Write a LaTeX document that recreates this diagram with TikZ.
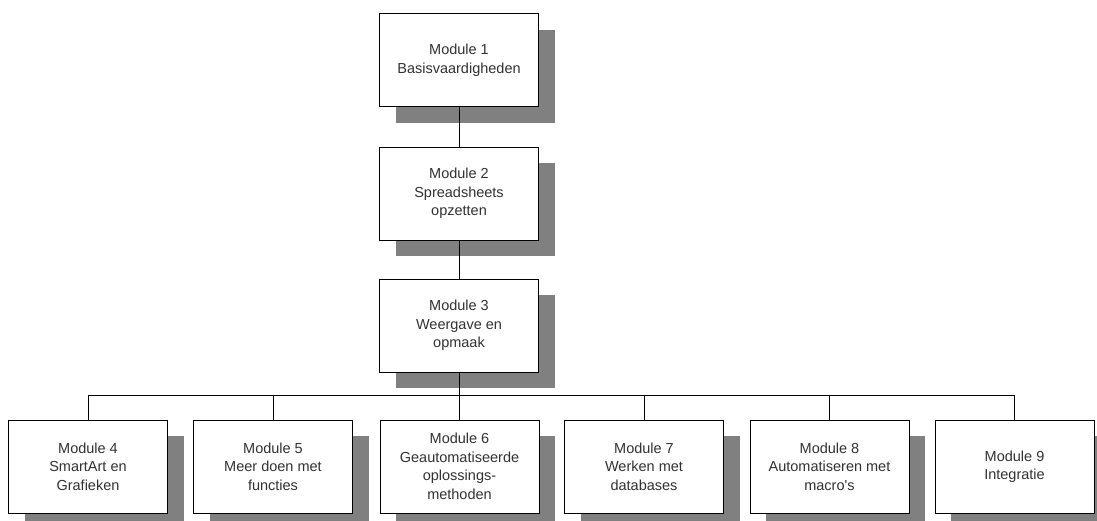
\documentclass[tikz,border=0pt]{standalone}
\usepackage{fontspec}
\setmainfont{Liberation Sans}[Ligatures=TeXOff]
\usetikzlibrary{shadows}
\definecolor{shadowgray}{RGB}{128,128,128}
\definecolor{txtgray}{RGB}{50,50,50}
\tikzset{
  modbox/.style={draw=black, line width=0.9pt, fill=white, minimum width=159pt, minimum height=93pt,
    inner sep=0pt, align=center, text=txtgray,
    font=\fontsize{14.5pt}{18.5pt}\selectfont,
    drop shadow={shadow xshift=16pt, shadow yshift=-16pt, fill=shadowgray, opacity=1}},
  conn/.style={draw=black, line width=0.9pt}
}
\begin{document}
\begin{tikzpicture}[x=1pt,y=-1pt]
\useasboundingbox (0,0) rectangle (1097,520);
\clip (0,0) rectangle (1097,520);
\node[modbox] (m1) at (459,60) {Module 1\\Basisvaardigheden};
\node[modbox] (m2) at (459,193.5) {Module 2\\Spreadsheets\\opzetten};
\node[modbox] (m3) at (459,325.5) {Module 3\\Weergave en\\opmaak};
\node[modbox] (m4) at (88,466.5) {Module 4\\SmartArt en\\Grafieken};
\node[modbox] (m5) at (273,466.5) {Module 5\\Meer doen met\\functies};
\node[modbox] (m6) at (459.5,466.5) {Module 6\\Geautomatiseerde\\oplossings-\\methoden};
\node[modbox] (m7) at (644,466.5) {Module 7\\Werken met\\databases};
\node[modbox] (m8) at (829.5,466.5) {Module 8\\Automatiseren met\\macro's};
\node[modbox] (m9) at (1014.5,466.5) {Module 9\\Integratie};
\coordinate (bus) at (459,395);
\draw[conn] (m1.south) -- (m2.north);
\draw[conn] (m2.south) -- (m3.north);
\draw[conn] (m3.south) -- (bus);
\foreach \n in {m4,m5,m6,m7,m8,m9} {
  \draw[conn] (bus) -| (\n.north);
}
\end{tikzpicture}
\end{document}
